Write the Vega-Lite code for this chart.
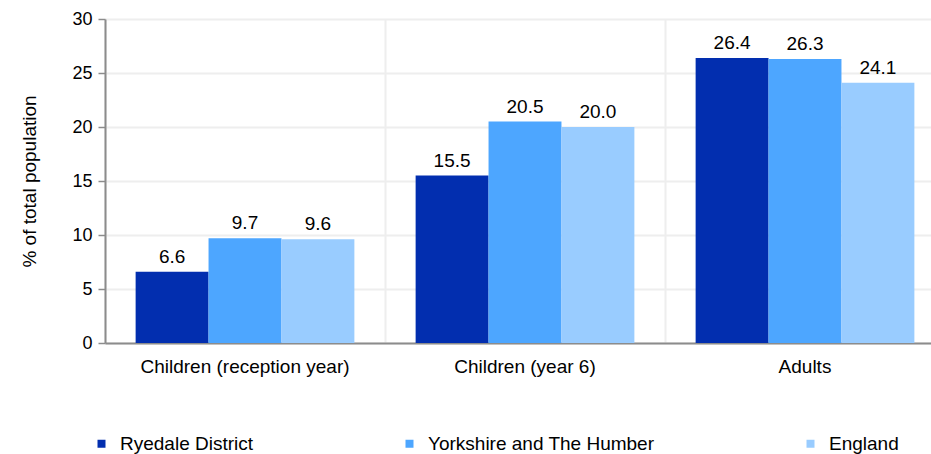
{
  "$schema": "https://vega.github.io/schema/vega-lite/v6.json",
  "width": 840,
  "height": 324,
  "autosize": {"type": "none"},
  "padding": {"left": 105, "top": 19, "right": 0, "bottom": 111},
  "config": {
    "font": "Liberation Sans",
    "view": {"stroke": null}
  },
  "data": {
    "values": [
      {"group": "Children (reception year)", "series": "Ryedale District", "value": 6.6},
      {"group": "Children (reception year)", "series": "Yorkshire and The Humber", "value": 9.7},
      {"group": "Children (reception year)", "series": "England", "value": 9.6},
      {"group": "Children (year 6)", "series": "Ryedale District", "value": 15.5},
      {"group": "Children (year 6)", "series": "Yorkshire and The Humber", "value": 20.5},
      {"group": "Children (year 6)", "series": "England", "value": 20.0},
      {"group": "Adults", "series": "Ryedale District", "value": 26.4},
      {"group": "Adults", "series": "Yorkshire and The Humber", "value": 26.3},
      {"group": "Adults", "series": "England", "value": 24.1}
    ]
  },
  "encoding": {
    "x": {
      "field": "group",
      "type": "nominal",
      "sort": ["Children (reception year)", "Children (year 6)", "Adults"],
      "scale": {"paddingInner": 0, "paddingOuter": 0},
      "axis": {
        "title": null,
        "labelAngle": 0,
        "labelFontSize": 19,
        "labelLimit": 400,
        "labelColor": "#000000",
        "labelPadding": 14,
        "ticks": false,
        "domainColor": "#8c8c8c",
        "domainWidth": 2,
        "grid": true,
        "gridColor": "#eeeeee",
        "gridWidth": 2,
        "bandPosition": 0
      }
    },
    "xOffset": {
      "field": "series",
      "type": "nominal",
      "sort": ["Ryedale District", "Yorkshire and The Humber", "England"],
      "scale": {"paddingInner": 0, "paddingOuter": 0.42}
    },
    "y": {
      "field": "value",
      "type": "quantitative",
      "scale": {"domain": [0, 30], "nice": false},
      "axis": {
        "title": "% of total population",
        "titleFontSize": 19,
        "titleFontWeight": "normal",
        "titleColor": "#000000",
        "titlePadding": 32,
        "values": [0, 5, 10, 15, 20, 25, 30],
        "labelFontSize": 18,
        "labelColor": "#000000",
        "labelPadding": 6,
        "tickColor": "#8c8c8c",
        "tickSize": 7,
        "tickWidth": 1.5,
        "domainColor": "#8c8c8c",
        "domainWidth": 2,
        "gridColor": "#eeeeee",
        "gridWidth": 2
      }
    }
  },
  "layer": [
    {
      "mark": {"type": "bar"},
      "encoding": {
        "color": {
          "field": "series",
          "type": "nominal",
          "sort": ["Ryedale District", "Yorkshire and The Humber", "England"],
          "scale": {
            "domain": ["Ryedale District", "Yorkshire and The Humber", "England"],
            "range": ["#022eaf", "#4da6ff", "#99ccff"]
          },
          "legend": {
            "title": null,
            "orient": "none",
            "legendX": -13,
            "legendY": 415,
            "direction": "horizontal",
            "columns": 3,
            "columnPadding": 146,
            "symbolType": "square",
            "symbolSize": 64,
            "symbolStrokeWidth": 0,
            "labelFontSize": 19,
            "labelColor": "#000000",
            "labelOffset": 9,
            "labelLimit": 400
          }
        }
      }
    },
    {
      "mark": {"type": "text", "baseline": "bottom", "dy": -5, "fontSize": 19, "color": "#000000"},
      "encoding": {
        "text": {"field": "value", "type": "quantitative", "format": ".1f"}
      }
    }
  ]
}
